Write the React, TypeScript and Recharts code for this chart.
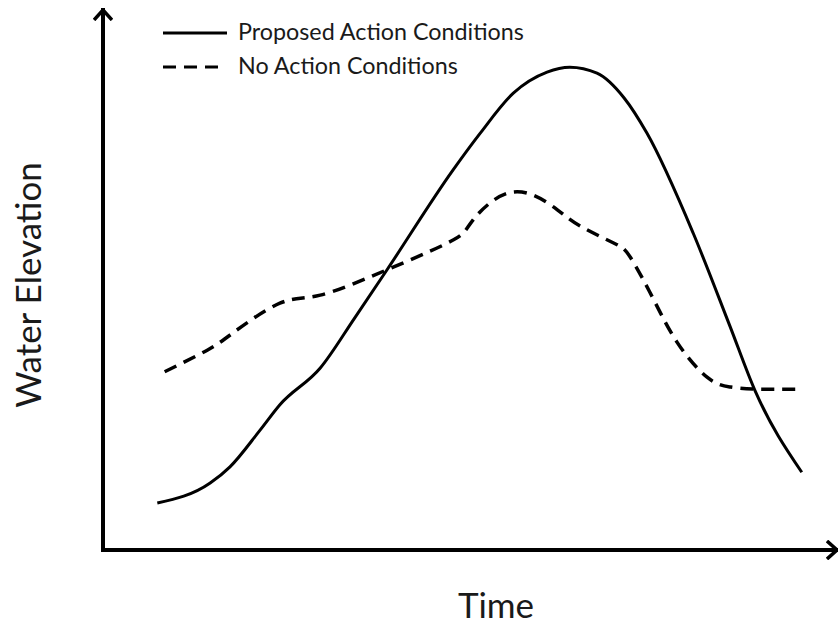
import { Legend, Line, LineChart, XAxis, YAxis } from 'recharts'

// time / elevation in arbitrary units (0-100 along each axis)
const proposedTime = [7.4, 14.6, 17.3, 21.4, 24.1, 29.6, 34.3, 38.7, 47.7, 51.4, 55.9, 60.5, 63.6, 67.3, 71.0, 74.1, 80.4, 85.4, 88.8, 95.2]
const proposedLevel = [8.7, 12.4, 15.4, 22.2, 26.9, 33.7, 43.0, 51.9, 70.4, 77.2, 84.6, 88.5, 89.4, 88.3, 83.7, 77.2, 58.7, 41.5, 29.6, 14.4]

const noActionTime = [8.4, 14.2, 17.7, 24.1, 29.6, 38.7, 47.7, 50.4, 55.9, 61.9, 65.0, 69.5, 71.8, 74.9, 78.2, 82.3, 85.4, 88.8, 95.2]
const noActionLevel = [33.0, 37.0, 40.2, 45.7, 47.2, 51.9, 57.4, 61.1, 66.3, 63.0, 60.0, 56.9, 54.3, 46.7, 38.5, 32.0, 30.2, 29.8, 29.8]

const proposedData = proposedTime.map((t, i) => ({ t, v: proposedLevel[i] }))
const noActionData = noActionTime.map((t, i) => ({ t, v: noActionLevel[i] }))

const font = 'Lato, "Open Sans", sans-serif'
const dash = '13 8'

const legendOrder = ['proposed', 'noAction']
const legendStyle: Record<string, { label: string; len: number; dash?: string }> = {
  proposed: { label: 'Proposed Action Conditions', len: 64 },
  noAction: { label: 'No Action Conditions', len: 55, dash },
}

function LegendBox({ payload }: any) {
  const items = [...(payload || [])].sort((a: any, b: any) => legendOrder.indexOf(a.value) - legendOrder.indexOf(b.value))
  return (
    <svg width={400} height={64}>
      {items.map((entry: any, i: number) => {
        const s = legendStyle[entry.value]
        const y = 15 + i * 34
        return (
          <g key={entry.value}>
            <line x1={0} x2={s.len} y1={y} y2={y} stroke="#000" strokeWidth={3} strokeDasharray={s.dash} />
            <text x={75} y={y + 7} fontFamily={font} fontSize={23.3} fill="#1a1a1a">
              {s.label}
            </text>
          </g>
        )
      })}
    </svg>
  )
}

export default function App() {
  return (
    <div style={{ position: 'absolute', left: 0, top: 0, width: 838, height: 625, background: '#fff' }}>
      <LineChart width={838} height={625} margin={{ top: 10, right: 1, bottom: 74, left: 102 }}>
        <defs>
          <marker id="arrowHead" viewBox="0 0 12 20" refX={11} refY={10} markerWidth={12} markerHeight={20} markerUnits="userSpaceOnUse" orient="auto-start-reverse">
            <path d="M1,1 L11,10 L1,19" fill="none" stroke="#000" strokeWidth={3.5} />
          </marker>
        </defs>
        <XAxis
          type="number"
          dataKey="t"
          domain={[0, 100]}
          height={1}
          tick={false}
          tickLine={false}
          axisLine={{ stroke: '#000', strokeWidth: 4, strokeLinecap: 'square', markerEnd: 'url(#arrowHead)' }}
        />
        <YAxis
          type="number"
          domain={[0, 100]}
          width={1}
          tick={false}
          tickLine={false}
          axisLine={{ stroke: '#000', strokeWidth: 4, strokeLinecap: 'square', markerStart: 'url(#arrowHead)' }}
        />
        <Legend
          layout="horizontal"
          verticalAlign="middle"
          align="center"
          wrapperStyle={{ left: 163, top: 18, width: 400, height: 64 }}
          content={(props: any) => <LegendBox {...props} />}
        />
        <Line
          data={proposedData}
          dataKey="v"
          name="proposed"
          type="monotone"
          stroke="#000"
          strokeWidth={3}
          dot={false}
          activeDot={false}
          isAnimationActive={false}
        />
        <Line
          data={noActionData}
          dataKey="v"
          name="noAction"
          type="natural"
          stroke="#000"
          strokeWidth={3.5}
          strokeDasharray={dash}
          dot={false}
          activeDot={false}
          isAnimationActive={false}
        />
        <text x={496} y={618} textAnchor="middle" fontFamily={font} fontSize={35} fill="#1a1a1a">
          Time
        </text>
        <text x={41} y={285} textAnchor="middle" fontFamily={font} fontSize={35} fill="#1a1a1a" transform="rotate(-90, 41, 285)">
          Water Elevation
        </text>
      </LineChart>
    </div>
  )
}
